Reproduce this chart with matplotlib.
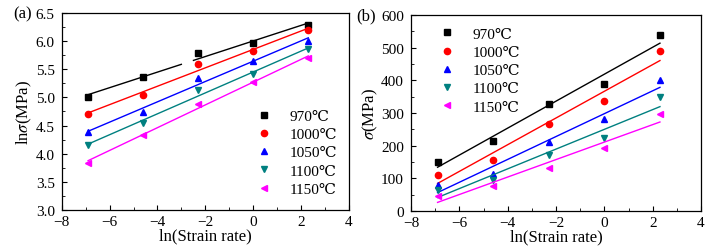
import numpy as np
import matplotlib
matplotlib.use("Agg")
import matplotlib.pyplot as plt
from matplotlib.ticker import MultipleLocator, AutoMinorLocator, FormatStrFormatter

plt.rcParams['font.family'] = ['Liberation Serif', 'DejaVu Serif']
plt.rcParams['mathtext.fontset'] = 'stix'

x_vals = [-6.9, -4.6, -2.3, 0.0, 2.3]
temps = ['970℃', '1000℃', '1050℃', '1100℃', '1150℃']
colors = ['black', 'red', 'blue', '#008080', 'magenta']
markers = ['s', 'o', '^', 'v', '<']

ln_sigma_970 = [5.00, 5.37, 5.79, 5.97, 6.29]
ln_sigma_1000 = [4.71, 5.05, 5.59, 5.83, 6.20]
ln_sigma_1050 = [4.39, 4.74, 5.35, 5.65, 6.01]
ln_sigma_1100 = [4.16, 4.55, 5.13, 5.42, 5.86]
ln_sigma_1150 = [3.84, 4.34, 4.88, 5.27, 5.70]

sigma_970 = [150, 215, 328, 388, 538]
sigma_1000 = [111, 156, 267, 338, 490]
sigma_1050 = [81, 114, 211, 281, 400]
sigma_1100 = [65, 95, 170, 224, 348]
sigma_1150 = [47, 77, 133, 194, 296]

left_series = [ln_sigma_970, ln_sigma_1000, ln_sigma_1050, ln_sigma_1100, ln_sigma_1150]
right_series = [sigma_970, sigma_1000, sigma_1050, sigma_1100, sigma_1150]

fig = plt.figure(figsize=(7.18, 2.53), dpi=100)
axL = fig.add_axes([0.086, 0.166, 0.400, 0.779])
axR = fig.add_axes([0.5724, 0.162, 0.404, 0.775])

xfit = np.linspace(min(x_vals), max(x_vals), 400)

def style(ax):
    ax.tick_params(which='both', direction='in', top=False, right=False, labelsize=11)
    ax.tick_params(axis='x', pad=3.5)
    ax.tick_params(axis='y', pad=5)
    ax.tick_params(which='major', length=3.5)
    ax.tick_params(which='minor', length=2)
    for s in ax.spines.values():
        s.set_linewidth(0.9)
    ax.set_xlim(-8, 4)
    ax.xaxis.set_major_locator(MultipleLocator(2))
    ax.xaxis.set_minor_locator(AutoMinorLocator(2))
    ax.yaxis.set_minor_locator(AutoMinorLocator(2))
    ax.set_xlabel('ln(Strain rate)', fontsize=12, labelpad=0)

for i, (ys, c, m, t) in enumerate(zip(left_series, colors, markers, temps)):
    axL.plot(x_vals, ys, linestyle='none', marker=m, color=c, ms=4.5, label=t)
    p = np.polyfit(x_vals, ys, 1)
    yf = np.polyval(p, xfit)
    if i == 0:
        yf = np.where((xfit > -3.0) & (xfit < -2.5), np.nan, yf)
    axL.plot(xfit, yf, color=c, lw=1)

axL.set_ylim(3.0, 6.5)
axL.yaxis.set_major_locator(MultipleLocator(0.5))
axL.yaxis.set_major_formatter(FormatStrFormatter('%.1f'))
style(axL)
axL.set_ylabel(r'ln$\sigma$(MPa)', fontsize=12, labelpad=1)
axL.legend(loc='lower right', frameon=False, fontsize=11, handletextpad=0.7,
           labelspacing=0.3, borderaxespad=0.0, bbox_to_anchor=(0.98, 0.04))
axL.text(-0.17, 1.0, '(a)', transform=axL.transAxes, fontsize=12, va='center', ha='left')

for ys, c, m, t in zip(right_series, colors, markers, temps):
    axR.plot(x_vals, ys, linestyle='none', marker=m, color=c, ms=4.5, label=t)
    p = np.polyfit(x_vals, ys, 1)
    axR.plot(xfit, np.polyval(p, xfit), color=c, lw=1)

axR.set_ylim(0, 600)
axR.yaxis.set_major_locator(MultipleLocator(100))
style(axR)
axR.set_ylabel(r'$\sigma$(MPa)', fontsize=12, labelpad=1)
axR.legend(loc='upper left', frameon=False, fontsize=11, handletextpad=0.7,
           labelspacing=0.3, borderaxespad=0.0, bbox_to_anchor=(0.05, 0.97))
axR.text(-0.19, 1.0, '(b)', transform=axR.transAxes, fontsize=12, va='center', ha='left')

fig.savefig('out.png', dpi=100)
